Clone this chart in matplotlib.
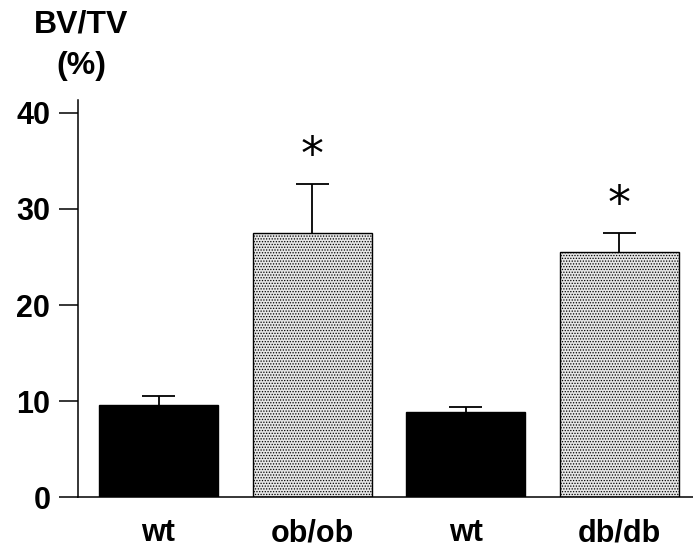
import matplotlib
matplotlib.use("Agg")
import matplotlib.pyplot as plt

categories = ["wt", "ob/ob", "wt", "db/db"]
means = [9.6, 27.5, 8.85, 25.55]
sem = [0.9, 5.1, 0.55, 1.95]
star_y = [None, 35.4, None, 30.4]
yticks = [0, 10, 20, 30, 40]

plt.rcParams['font.family'] = ['Liberation Sans', 'DejaVu Sans']
plt.rcParams['hatch.color'] = '#8a8a8a'
plt.rcParams['hatch.linewidth'] = 0.6

fig = plt.figure(figsize=(6.93, 5.53), dpi=100)
ax = fig.add_axes([0.1126, 0.1004, 1 - 0.1126, 0.7188])

x = list(range(len(categories)))
colors = ['black', '#e6e6e6', 'black', '#e6e6e6']
hatches = [None, '......', None, '......']
for xi, m, c, h in zip(x, means, colors, hatches):
    ax.bar(xi, m, width=0.775, color=c, edgecolor='black', linewidth=1.0, hatch=h, zorder=2)
tops = [m + e for m, e in zip(means, sem)]
ax.vlines(x, means, tops, colors='black', linewidth=1.3, zorder=1)
ax.hlines(tops, [xi - 0.107 for xi in x], [xi + 0.107 for xi in x],
          colors='black', linewidth=1.3, zorder=1)
for xi, sy in zip(x, star_y):
    if sy is not None:
        ax.text(xi, sy, '*', ha='center', va='center', fontsize=33, family='DejaVu Sans')

ax.set_xlim(-0.524, 3.48)
ax.set_ylim(0, 41.32)
ax.set_yticks(yticks)
ax.set_yticklabels([str(t) for t in yticks], fontsize=22, fontweight='bold')
ax.set_xticks(x)
ax.set_xticklabels(categories, fontsize=22, fontweight='bold')
ax.tick_params(axis='x', length=0, pad=15)
ax.tick_params(axis='y', length=14, width=1.1, direction='out', pad=6)
for s in ['top', 'right']:
    ax.spines[s].set_visible(False)
for s in ['left', 'bottom']:
    ax.spines[s].set_linewidth(1.1)

fig.text(0.117, 0.955, 'BV/TV', ha='center', va='center', fontsize=23, fontweight='bold')
fig.text(0.117, 0.88, '(%)', ha='center', va='center', fontsize=23, fontweight='bold')

fig.savefig('out.png', dpi=100)
